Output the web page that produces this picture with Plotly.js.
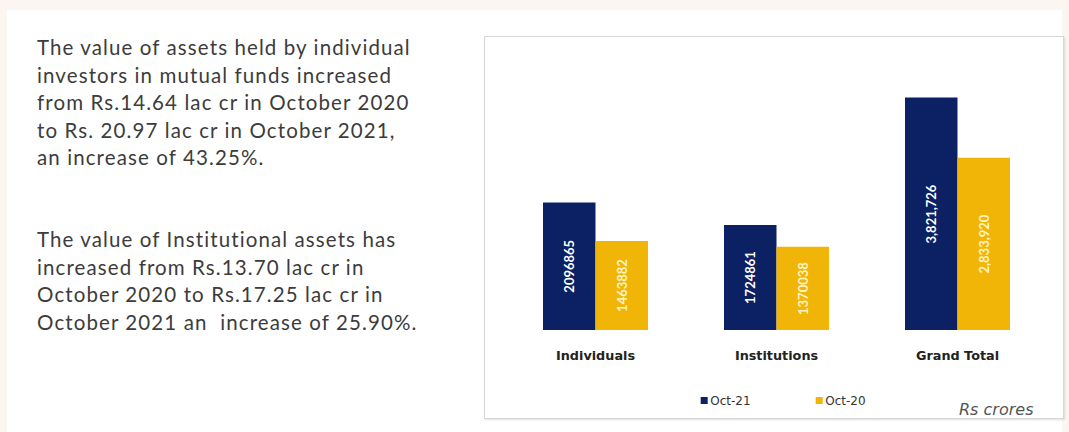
<!DOCTYPE html>
<html>
<head>
<meta charset="utf-8">
<script src="https://cdn.plot.ly/plotly-3.0.1.min.js"></script>
<style>
  html, body { margin:0; padding:0; width:1069px; height:432px; overflow:hidden; background:#fbf6ef; }
  #inner { position:absolute; left:7px; top:10px; width:1055px; height:422px; background:#ffffff; }
  #box { position:absolute; left:484px; top:36px; width:578px; height:381px; border:1px solid #d6d6d6; box-shadow:1px 1px 2px rgba(0,0,0,0.12); background:#fff; }
  #txt { position:absolute; left:37px; top:34px; width:440px; font-family:Lato, "Open Sans", sans-serif; font-size:20.5px; letter-spacing:1.1px; line-height:27.5px; color:#3c3c3c; white-space:nowrap; }
  #txt p { margin:0 0 54.5px 0; }
  #chart { position:absolute; left:0; top:0; width:1069px; height:432px; }
</style>
</head>
<body>
<div id="inner"></div>
<div id="box"></div>
<div id="txt">
  <p>The value of assets held by individual<br>investors in mutual funds increased<br>from Rs.14.64 lac cr in October 2020<br>to Rs. 20.97 lac cr in October 2021,<br>an increase of 43.25%.</p>
  <p>The value of Institutional assets has<br>increased from Rs.13.70 lac cr in<br>October 2020 to Rs.17.25 lac cr in<br>October 2021 an &nbsp;increase of 25.90%.</p>
</div>
<div id="chart"></div>
<script>
const categories = ["Individuals", "Institutions", "Grand Total"];
const oct21 = [2096865, 1724861, 3821726];
const oct20 = [1463882, 1370038, 2833920];
const seriesNames = ["Oct-21", "Oct-20"];
const unitNote = "Rs crores";

function fmt(vals) {
  return vals.map((v, i) => categories[i] === "Grand Total" ? v.toLocaleString("en-US") : String(v));
}

const navy = "#0c2163";
const gold = "#f1b507";

const traces = [
  { type:"bar", name:seriesNames[0], x:categories, y:oct21, text:fmt(oct21),
    marker:{color:navy}, textposition:"inside", insidetextanchor:"middle", textangle:-90,
    textfont:{family:"Lato, sans-serif", size:13, color:"#ffffff", weight:"bold"}, hoverinfo:"none" },
  { type:"bar", name:seriesNames[1], x:categories, y:oct20, text:fmt(oct20),
    marker:{color:gold}, textposition:"inside", insidetextanchor:"middle", textangle:-90,
    textfont:{family:"Lato, sans-serif", size:13, color:"#fff4c8", weight:"bold"}, hoverinfo:"none" }
];

const layout = {
  width:1069, height:432,
  margin:{l:505, r:21, t:74, b:102},
  paper_bgcolor:"rgba(0,0,0,0)", plot_bgcolor:"rgba(0,0,0,0)",
  barmode:"group", bargap:0.42, bargroupgap:0,
  showlegend:true,
  legend:{orientation:"h", x:0.33, xanchor:"left", y:-0.275, yanchor:"middle",
    font:{family:"DejaVu Sans, sans-serif", size:12, color:"#333"}, entrywidth:70, itemwidth:30,
    bgcolor:"rgba(0,0,0,0)"},
  xaxis:{showline:false, showgrid:false, zeroline:false, ticks:"",
    tickfont:{family:"DejaVu Sans, sans-serif", size:12.8, color:"#222", weight:"bold"}, ticklabelstandoff:16},
  yaxis:{visible:false, range:[0, 4210000], showgrid:false, zeroline:false},
  annotations:[
    {text:unitNote, xref:"paper", yref:"paper", x:0.976, y:-0.31, xanchor:"right", yanchor:"middle",
     showarrow:false, font:{family:"DejaVu Sans, sans-serif", size:16, color:"#555", style:"italic"}}
  ]
};

Plotly.newPlot("chart", traces, layout, {displayModeBar:false, staticPlot:true}).then(function (gd) {
  gd.querySelectorAll(".legend .legendpoints path").forEach(function (p) {
    p.setAttribute("d", "M3.5,3.5H-3.5V-3.5H3.5Z");
  });
  gd.querySelectorAll(".legend text.legendtext").forEach(function (t) {
    t.setAttribute("x", "26");
  });
});
</script>
</body>
</html>
